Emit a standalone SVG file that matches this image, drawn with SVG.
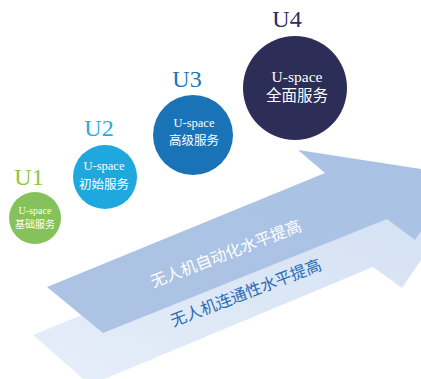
<svg xmlns="http://www.w3.org/2000/svg" width="421" height="379" viewBox="0 0 421 379">
<defs>
<linearGradient id="gLight" x1="0" y1="1" x2="1" y2="0">
<stop offset="0" stop-color="#e6eef9"/>
<stop offset="1" stop-color="#d3e1f3"/>
</linearGradient>
<linearGradient id="gDark" x1="0" y1="1" x2="1" y2="0">
<stop offset="0" stop-color="#adc3e4"/>
<stop offset="1" stop-color="#a9c2e3"/>
</linearGradient>
<style>
.lab{font-family:"Liberation Serif","Noto Sans CJK SC",serif;font-size:24px;text-anchor:middle}
.in{font-family:"Liberation Serif","Noto Sans CJK SC",serif;fill:#ffffff;text-anchor:middle}
.arr{font-family:"Liberation Serif","Noto Sans CJK SC",serif;font-size:16px;text-anchor:middle}
</style>
</defs>
<rect width="421" height="379" fill="#ffffff"/>
<g id="connectors">
<polygon id="arrow-light" points="33,335 90,385 373,267 402,288 446,223 284,198 311,221" fill="url(#gLight)"/>
<polygon id="arrow-dark" points="47,287 103,333 387,219 415,240 460,175 298,150 325,173" fill="url(#gDark)"/>
<text class="arr" fill="#ffffff" transform="translate(228,259) rotate(-21)">无人机自动化水平提高</text>
<text class="arr" fill="#2a6cb4" transform="translate(248,298) rotate(-21)">无人机连通性水平提高</text>
</g>
<g id="u1">
<text class="lab" x="29" y="185" fill="#8dc63f">U1</text>
<circle cx="35" cy="218" r="26" fill="#86c25b"/>
<text class="in" x="35" y="214" font-size="10">U-space</text>
<text class="in" x="35" y="228" font-size="10">基础服务</text>
</g>
<g id="u2">
<text class="lab" x="99" y="136" fill="#29abe2">U2</text>
<circle cx="105" cy="177" r="32" fill="#1ea8de"/>
<text class="in" x="104" y="170" font-size="12.5">U-space</text>
<text class="in" x="104" y="189" font-size="12.5">初始服务</text>
</g>
<g id="u3">
<text class="lab" x="187" y="87" fill="#1b75bc">U3</text>
<circle cx="193" cy="135" r="40" fill="#1a72b7"/>
<text class="in" x="194" y="127" font-size="12.5">U-space</text>
<text class="in" x="194" y="145" font-size="12.5">高级服务</text>
</g>
<g id="u4">
<text class="lab" x="287" y="27" fill="#2b2e5c">U4</text>
<circle cx="295" cy="88" r="52" fill="#2d2e57"/>
<text class="in" x="297" y="82" font-size="15.5">U-space</text>
<text class="in" x="297" y="101" font-size="15.5">全面服务</text>
</g>
</svg>
